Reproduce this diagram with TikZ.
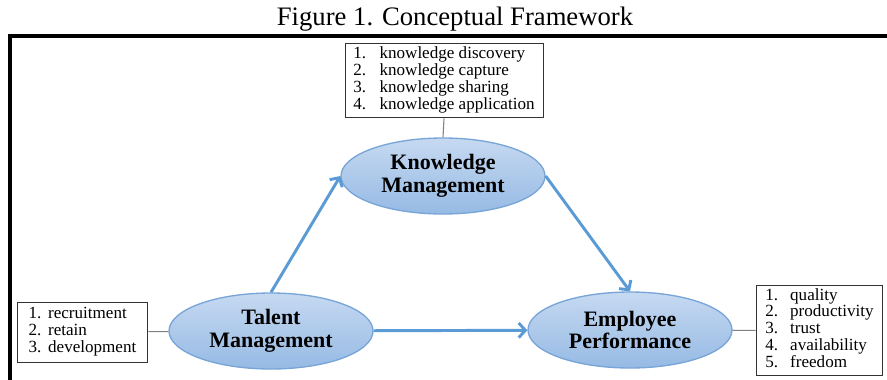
\documentclass[tikz,border=0pt]{standalone}
\usepackage{fontspec}
\setmainfont{Liberation Serif}
\usetikzlibrary{shapes.geometric,arrows.meta}
\definecolor{flowblue}{RGB}{91,155,213}
\definecolor{ellline}{RGB}{120,165,215}
\definecolor{elltop}{RGB}{198,217,241}
\definecolor{ellbot}{RGB}{150,186,228}

\begin{document}
\begin{tikzpicture}[x=0.75pt,y=-0.75pt,
	concept/.style={ellipse, draw=ellline, line width=1pt, top color=elltop, bottom color=ellbot,
		minimum width=153pt, minimum height=57pt, inner sep=0pt, align=center,
		font=\fontsize{16.5}{17}\selectfont\bfseries},
	itembox/.style={draw=black!80, line width=0.7pt, fill=white, inner sep=2pt,
		font=\fontsize{12.8}{12.6}\selectfont},
	link/.style={draw=gray, line width=0.8pt},
	flow/.style={draw=flowblue, line width=2.2pt, -{Straight Barb[length=5pt,width=11pt]}}]
	\useasboundingbox (0,0) rectangle (887,379);
	% title
	\node (title) at (455,19) {\fontsize{20}{24}\selectfont Figure 1. Conceptual Framework};
	\draw[line width=2.5pt] (10,381) -- (10,36) -- (890,36);
	% variables
	\node[concept] (km) at (443,176) {Knowledge\\Management};
	\node[concept] (tm) at (271,331) {Talent\\Management};
	\node[concept] (ep) at (630,330) {Employee\\Performance};
	% indicators
	\node[itembox, minimum width=148.5pt, minimum height=56pt] (kmlist) at (444,80.5)
	{\begin{tabular}{@{}l@{\hspace{10pt}}l@{}}
		1. & knowledge discovery\\
		2. & knowledge capture\\
		3. & knowledge sharing\\
		4. & knowledge application
	\end{tabular}};
	\node[itembox, minimum width=98pt, minimum height=45pt] (tmlist) at (82.5,332)
	{\begin{tabular}{@{}l@{\hspace{5pt}}l@{}}
		1. & recruitment\\
		2. & retain\\
		3. & development
	\end{tabular}};
	\node[itembox, minimum width=95pt, minimum height=64pt] (eplist) at (819.5,330.5)
	{\begin{tabular}{@{}l@{\hspace{9pt}}l@{}}
		1. & quality\\
		2. & productivity\\
		3. & trust\\
		4. & availability\\
		5. & freedom
	\end{tabular}};
	\draw[link] (kmlist.south) -- (km.north);
	\draw[link] (tmlist) -- (tm);
	\draw[link] (ep) -- (eplist);
	% paths
	\draw[flow] (tm.north) -- (km.west);
	\draw[flow] (km.east) -- (ep.north);
	\draw[flow] (tm) -- (ep);
\end{tikzpicture}
\end{document}
